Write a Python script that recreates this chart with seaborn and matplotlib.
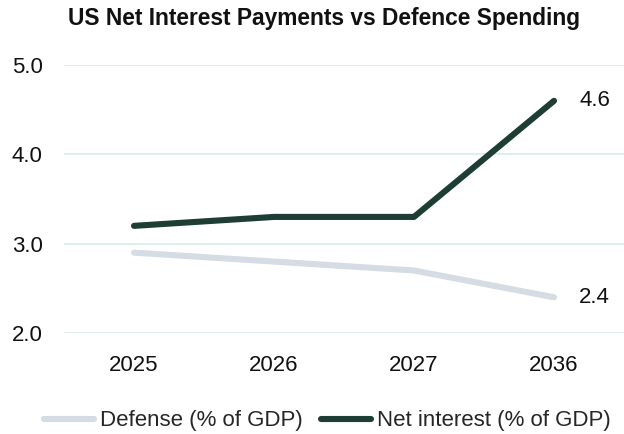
import matplotlib
matplotlib.use("Agg")
import matplotlib.pyplot as plt
from matplotlib.lines import Line2D
import seaborn as sns
import pandas as pd

years = ["2025", "2026", "2027", "2036"]
defense = [2.9, 2.8, 2.7, 2.4]
net_interest = [3.2, 3.3, 3.3, 4.6]
series_names = ["Defense (% of GDP)", "Net interest (% of GDP)"]
colors = ["#d5dce3", "#1e3d34"]

sns.set_theme(style="white")
plt.rcParams["font.family"] = ["Liberation Sans", "DejaVu Sans"]

df = pd.DataFrame({
    "year": years * 2,
    "value": defense + net_interest,
    "series": [series_names[0]] * 4 + [series_names[1]] * 4,
})

fig = plt.figure(figsize=(6.24, 4.34), dpi=100)
ax = fig.add_axes([0.1026, 0.2327, 0.8974, 0.6173])

sns.lineplot(data=df, x="year", y="value", hue="series", palette=colors,
             linewidth=4.4, ax=ax, legend=False, sort=False)
for line in ax.lines:
    line.set_solid_capstyle("round")

ax.set_xlim(-0.5, 3.5)
ax.set_ylim(2.0, 5.0)
ax.set_yticks([2.0, 3.0, 4.0, 5.0])
ax.set_yticklabels([f"{v:.1f}" for v in [2.0, 3.0, 4.0, 5.0]])
ax.yaxis.grid(True, color="#d8ebe4", linewidth=1.2)
ax.xaxis.grid(False)
for s in ax.spines.values():
    s.set_visible(False)
ax.set_xlabel("")
ax.set_ylabel("")
ax.tick_params(axis="both", labelsize=16, colors="#111111", length=0)
ax.tick_params(axis="y", pad=15.5)
ax.tick_params(axis="x", pad=16)
ax.set_axisbelow(True)

# end-of-line value labels
ax.annotate(f"{net_interest[-1]:.1f}", (3, net_interest[-1]), xytext=(18, 0),
            textcoords="offset points", va="center", ha="left", fontsize=16, color="#111111")
ax.annotate(f"{defense[-1]:.1f}", (3, defense[-1]), xytext=(18, 0),
            textcoords="offset points", va="center", ha="left", fontsize=16, color="#111111")

fig.text(0.52, 0.957, "US Net Interest Payments vs Defence Spending", ha="center",
         va="center", fontsize=16.4, fontweight="bold", color="#111111")

handles = [Line2D([0], [0], color=c, linewidth=4.4, solid_capstyle="round") for c in colors]
fig.legend(handles, series_names, loc="center", bbox_to_anchor=(0.525, 0.030), ncol=2,
           frameon=False, fontsize=16, handlelength=2.25, handletextpad=0.27,
           columnspacing=0.81, borderpad=0, borderaxespad=0)

fig.savefig("out.png", dpi=100)
